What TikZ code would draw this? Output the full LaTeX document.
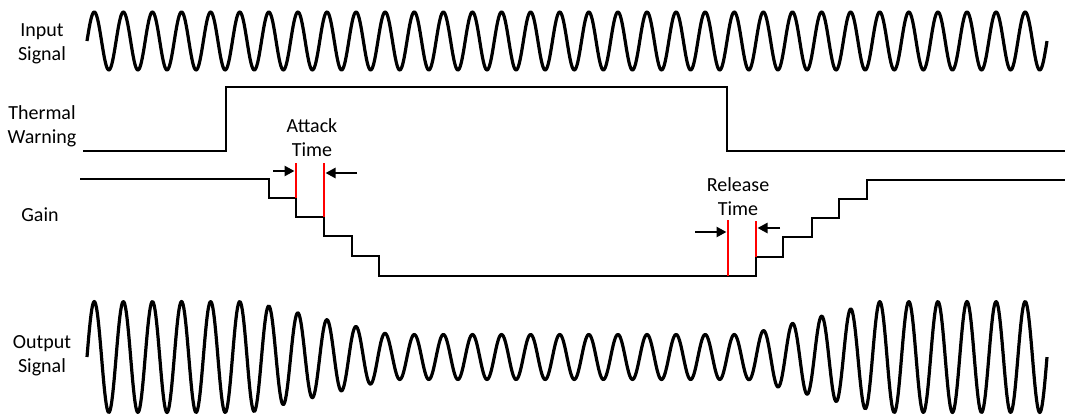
\documentclass[tikz,border=0pt]{standalone}
\usepackage{fontspec}
\setmainfont{Carlito}
\usetikzlibrary{arrows.meta}
\begin{document}
\begin{tikzpicture}[x=1pt,y=-1pt,
  lbl/.style={font=\fontsize{20}{24}\selectfont, align=center, inner sep=0pt},
  wave/.style={line width=3.2pt, line join=round},
  trace/.style={line width=2.9pt, line join=miter},
  marker/.style={red, line width=2.8pt},
  dimarrow/.style={line width=2.8pt, -{Triangle[length=10pt,width=10pt]}},
  declare function={
    fa(\t)=min(1,max(0,(390-\t)/140));
    fr(\t)=min(1,max(0,(\t-748)/132));
    amp(\t)=22.5+33*(fa(\t)+fr(\t));
  }]
\useasboundingbox (0,0) rectangle (1065,415);

% labels
\node[lbl] (inlbl) at (42,44) {Input\\Signal};
\node[lbl] (thlbl) at (42,126) {Thermal\\Warning};
\node[lbl] (gainlbl) at (40,215) {Gain};
\node[lbl] (outlbl) at (42,356) {Output\\Signal};
\node[lbl] (attlbl) at (312,138) {Attack\\Time};
\node[lbl] (rellbl) at (738,197) {Release\\Time};

% input signal
\draw[wave] plot[domain=87:1047, samples=1200] (\x, {41 - 29*sin(12.375*(\x-87))});

% thermal warning
\draw[trace] (83,151) -- (226,151) -- (226,87) -- (727,87) -- (727,151) -- (1065,151);

% gain
\draw[trace] (80,179) -- (269,179) -- (269,198) -- (296,198) -- (296,217) -- (324,217)
  -- (324,236) -- (352,236) -- (352,256) -- (379,256) -- (379,276) -- (756,276)
  -- (756,257) -- (783,257) -- (783,237) -- (812,237) -- (812,218) -- (839,218)
  -- (839,199) -- (867,199) -- (867,180) -- (1065,180);

% red markers
\coordinate (a1t) at (296,163); \coordinate (a1b) at (296,198);
\coordinate (a2t) at (324,163); \coordinate (a2b) at (324,217);
\coordinate (r1t) at (728,220); \coordinate (r1b) at (728,276);
\coordinate (r2t) at (756,221); \coordinate (r2b) at (756,257);
\draw[marker] (a1t) -- (a1b);
\draw[marker] (a2t) -- (a2b);
\draw[marker] (r1t) -- (r1b);
\draw[marker] (r2t) -- (r2b);

% arrows
\coordinate (aa1s) at (273,171); \coordinate (aa1e) at (294.5,171);
\coordinate (aa2s) at (357,173); \coordinate (aa2e) at (325.5,173);
\coordinate (ra1s) at (695,232); \coordinate (ra1e) at (726.5,232);
\coordinate (ra2s) at (780,228); \coordinate (ra2e) at (757.5,228);
\draw[dimarrow] (aa1s) -- (aa1e);
\draw[dimarrow] (aa2s) -- (aa2e);
\draw[dimarrow] (ra1s) -- (ra1e);
\draw[dimarrow] (ra2s) -- (ra2e);

% output signal
\draw[wave] plot[domain=87:1047, samples=1200] (\x, {357 - amp(\x)*sin(12.375*(\x-87))});
\end{tikzpicture}
\end{document}
